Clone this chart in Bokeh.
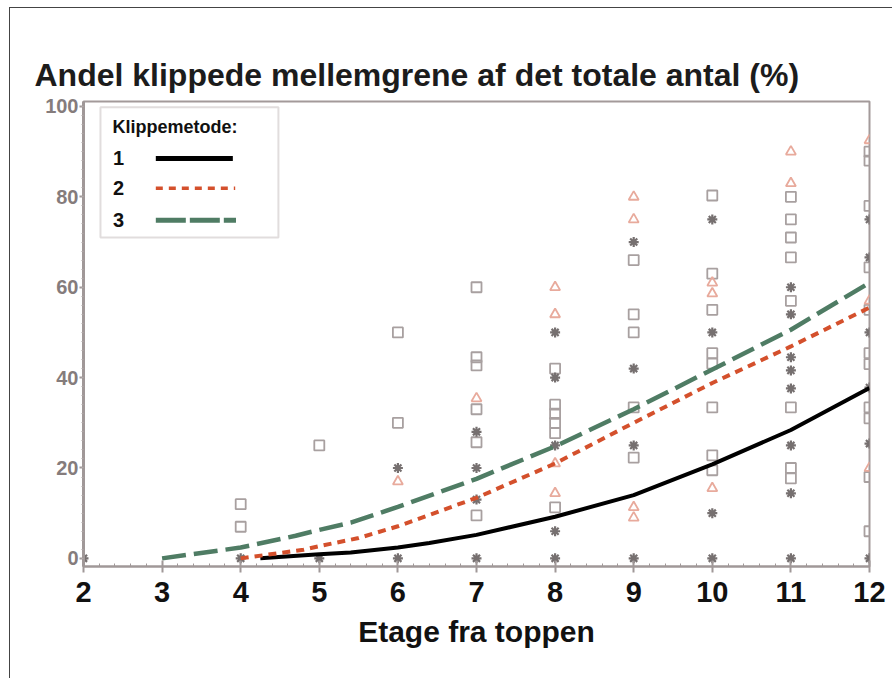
from bokeh.plotting import figure
from bokeh.models import Range1d, SingleIntervalTicker, BoxAnnotation, Title
from bokeh.core.properties import value
from bokeh.embed import file_html
from bokeh.resources import INLINE

# ---- data -------------------------------------------------------------
# fitted curves per cutting method (Klippemetode)
fit1_x = [4.25, 5, 5.4, 6, 6.4, 7, 8, 9, 10, 11, 12]
fit1_y = [0.0, 0.9, 1.3, 2.4, 3.4, 5.2, 9.2, 14.0, 20.8, 28.4, 37.7]
fit2_x = [4, 4.8, 5, 5.5, 6, 7, 8, 9, 10, 11, 12]
fit2_y = [0.0, 1.9, 2.7, 4.5, 7.1, 13.4, 21.0, 30.0, 38.8, 46.9, 55.5]
fit3_x = [3, 4, 4.7, 5, 5.4, 6, 7, 8, 9, 10, 11, 12]
fit3_y = [0.0, 2.4, 5.0, 6.3, 7.9, 11.4, 17.6, 24.8, 33.0, 41.8, 50.6, 61.0]

# observations, method 1
obs1_x = [2, 4, 5, 6, 6, 7, 7, 7, 7, 8, 8, 8, 8, 8, 9, 9, 9, 9,
          10, 10, 10, 10, 11, 11, 11, 11, 11, 11, 11, 11, 12, 12, 12, 12, 12, 12]
obs1_y = [0, 0, 0, 20, 0, 28, 20, 13, 0, 50, 40, 25, 6, 0, 70, 42, 25, 0,
          75, 50, 10, 0, 60, 54, 44.5, 41.6, 37.6, 25, 14.4, 0, 75, 66.6, 50, 37.8, 25.4, 0]
# observations, method 2
obs2_x = [6, 7, 8, 8, 8, 8, 9, 9, 9, 9, 10, 10, 10, 11, 11, 12, 12, 12]
obs2_y = [17, 35.4, 60, 54, 21, 14.4, 80, 75, 11.3, 9, 61, 58.6, 15.5, 90, 83, 92.5, 57, 20]
# observations, method 3
obs3_x = [4, 4, 5, 6, 6, 7, 7, 7, 7, 7, 7, 8, 8, 8, 8, 8, 8, 9, 9, 9, 9, 9,
          10, 10, 10, 10, 10, 10, 10, 10, 11, 11, 11, 11, 11, 11, 11, 11,
          12, 12, 12, 12, 12, 12, 12, 12, 12, 12, 12]
obs3_y = [12, 7, 25, 50, 30, 60, 44.5, 42.7, 33, 25.7, 9.5, 42, 34, 32, 30, 27.7, 11.3,
          66, 54, 50, 33.4, 22.3, 80.3, 63, 55, 45.4, 43.1, 33.4, 22.8, 19.5,
          80, 75, 71, 66.6, 57, 33.4, 20, 17.7,
          90, 88, 78, 64.4, 55, 45.4, 43, 33.4, 31, 18, 6]

title_text = "Andel klippede mellemgrene af det totale antal (%)"
x_label = "Etage fra toppen"
legend_title = "Klippemetode:"
legend_labels = ["1", "2", "3"]

# ---- figure -------------------------------------------------------------
FONT = "Liberation Sans"
RED = "#d4502c"
GREEN = "#4f7c64"
p = figure(width=883, height=671, output_backend="svg", toolbar_location=None,
           x_range=Range1d(2, 12), y_range=Range1d(-1.8, 101.1),
           min_border_left=73, min_border_right=24, min_border_top=93, min_border_bottom=113)
p.styles = {"margin-left": "9px", "margin-top": "7px",
            "border-left": "1px solid #444", "border-top": "1px solid #444"}
p.background_fill_color = "white"
p.border_fill_color = "white"
p.grid.visible = False
p.outline_line_color = "#a39a9a"
p.outline_line_width = 2

t = Title(text=title_text, align="left", offset=-49, standoff=17,
          text_font=FONT, text_font_size="32px", text_font_style="bold", text_color="#1c1c1c")
p.add_layout(t, "above")

# axes
p.xaxis.ticker = SingleIntervalTicker(interval=1, num_minor_ticks=5)
p.xaxis.axis_line_color = "#a09898"
p.xaxis.axis_line_width = 2
p.xaxis.major_tick_line_color = "#a09898"
p.xaxis.major_tick_line_width = 2
p.xaxis.major_tick_in = 6
p.xaxis.major_tick_out = 6
p.xaxis.minor_tick_line_color = "#a09898"
p.xaxis.minor_tick_in = 3
p.xaxis.minor_tick_out = 0
p.xaxis.major_label_text_font = FONT
p.xaxis.major_label_text_font_style = "bold"
p.xaxis.major_label_text_font_size = "29px"
p.xaxis.major_label_text_color = "#111111"
p.xaxis.major_label_standoff = 9
p.xaxis.axis_label = x_label
p.xaxis.axis_label_text_font = FONT
p.xaxis.axis_label_text_font_style = "bold"
p.xaxis.axis_label_text_font_size = "30px"
p.xaxis.axis_label_text_color = "#111111"
p.xaxis.axis_label_standoff = 10

p.yaxis.ticker = SingleIntervalTicker(interval=20, num_minor_ticks=10)
p.yaxis.axis_line_color = "#a09898"
p.yaxis.axis_line_width = 3
p.yaxis.major_tick_line_color = "#a09898"
p.yaxis.major_tick_line_width = 2
p.yaxis.major_tick_in = 0
p.yaxis.major_tick_out = 4
p.yaxis.minor_tick_line_color = "#b0a8a8"
p.yaxis.minor_tick_in = 0
p.yaxis.minor_tick_out = 2
p.yaxis.major_label_text_font = FONT
p.yaxis.major_label_text_font_style = "bold"
p.yaxis.major_label_text_font_size = "20px"
p.yaxis.major_label_text_color = "#857c7c"
p.yaxis.major_label_standoff = 1

# legend frame (under everything)
p.add_layout(BoxAnnotation(left=2.216, right=4.48, top=99.8, bottom=71.0,
                           fill_color="white", fill_alpha=1, level="underlay",
                           line_color="#9a9090", line_width=2))

# observations
p.scatter(obs3_x, obs3_y, marker="square", size=10, fill_color=None,
          line_color="#a8a0a0", line_width=1.8)
p.scatter(obs2_x, obs2_y, marker="triangle", size=10, fill_color=None,
          line_color="#e8aa9c", line_width=1.8)
p.scatter(obs1_x, obs1_y, marker="asterisk", size=10,
          line_color="#767070", line_width=2.2)

# fitted curves
p.line(fit1_x, fit1_y, line_color="#000000", line_width=4)
p.line(fit2_x, fit2_y, line_color=RED, line_width=4, line_dash="8 6")
p.line(fit3_x, fit3_y, line_color=GREEN, line_width=4.5, line_dash="24 8")

# legend contents (label before sample, drawn manually)
p.text(x=[2.37], y=[95.4], text=[legend_title], text_font=value(FONT),
       text_font_size="18px", text_font_style="bold", text_color="#111111",
       text_align="left", text_baseline="middle")
leg_y = [88.5, 81.9, 74.8]
p.text(x=[2.445] * 3, y=leg_y, text=legend_labels, text_font=value(FONT),
       text_font_size="20px", text_font_style="bold", text_color="#111111",
       text_align="center", text_baseline="middle")
p.line([2.92, 3.90], [leg_y[0]] * 2, line_color="#000000", line_width=5)
p.line([2.92, 3.93], [leg_y[1]] * 2, line_color=RED, line_width=3.5, line_dash="7 6")
p.line([2.92, 3.94], [leg_y[2]] * 2, line_color=GREEN, line_width=5, line_dash="30 4")

open("out.html", "w").write(file_html(p, INLINE))
